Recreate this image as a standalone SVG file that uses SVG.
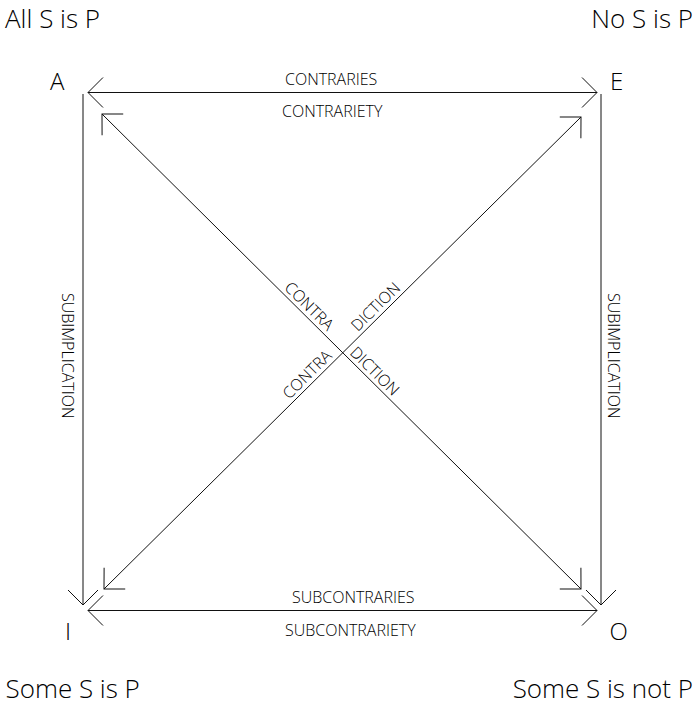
<svg xmlns="http://www.w3.org/2000/svg" width="695" height="706" viewBox="0 0 695 706">
<style>
  .big { font-family: "Open Sans", "Liberation Sans", sans-serif; font-weight: 300; font-size: 26px; fill: #000; }
  .corner { font-family: "Open Sans", "Liberation Sans", sans-serif; font-weight: 300; font-size: 24px; fill: #000; }
  .lbl { font-family: "Open Sans", "Liberation Sans", sans-serif; font-weight: 300; font-size: 16px; fill: #000; }
  .ln { stroke: #111; stroke-width: 1; fill: none; }
</style>
<defs>
  <marker id="arr" markerUnits="userSpaceOnUse" viewBox="-17 -17 18 34" refX="0" refY="0" markerWidth="18" markerHeight="34" orient="auto-start-reverse" overflow="visible">
    <path d="M-15,-15 L0,0 L-15,15" fill="none" stroke="#111" stroke-width="1"/>
  </marker>
</defs>
<rect width="695" height="706" fill="#fff"/>

<g id="node-A">
  <text class="big" x="5" y="28">All S is P</text>
  <text class="corner" x="50" y="90">A</text>
</g>
<g id="node-E">
  <text class="big" x="693" y="28" text-anchor="end">No S is P</text>
  <text class="corner" x="610" y="90">E</text>
</g>
<g id="node-I">
  <text class="big" x="5.5" y="698">Some S is P</text>
  <text class="corner" x="65" y="640">I</text>
</g>
<g id="node-O">
  <text class="big" x="693" y="698" text-anchor="end">Some S is not P</text>
  <text class="corner" x="609.5" y="640">O</text>
</g>

<g id="connectors">
  <line class="ln" x1="88" y1="92.5" x2="597" y2="92.5" marker-start="url(#arr)" marker-end="url(#arr)"/>
  <line class="ln" x1="88" y1="610.5" x2="597" y2="610.5" marker-start="url(#arr)" marker-end="url(#arr)"/>
  <line class="ln" x1="83" y1="94" x2="83" y2="605" marker-end="url(#arr)"/>
  <line class="ln" x1="601" y1="94" x2="601" y2="605" marker-end="url(#arr)"/>
  <line class="ln" x1="102" y1="114" x2="581" y2="589" marker-start="url(#arr)" marker-end="url(#arr)"/>
  <line class="ln" x1="581" y1="117" x2="104" y2="589" marker-start="url(#arr)" marker-end="url(#arr)"/>

  <text class="lbl" x="285" y="85">CONTRARIES</text>
  <text class="lbl" x="282" y="116.5">CONTRARIETY</text>
  <text class="lbl" x="292" y="603">SUBCONTRARIES</text>
  <text class="lbl" x="285" y="636">SUBCONTRARIETY</text>

  <text class="lbl" transform="translate(62,293) rotate(90)">SUBIMPLICATION</text>
  <text class="lbl" transform="translate(608,293) rotate(90)">SUBIMPLICATION</text>

  <g transform="translate(342.7,352.7) rotate(44.76)">
    <text class="lbl" x="-26" y="-4" text-anchor="end">CONTRA</text>
    <text class="lbl" x="5" y="-4">DICTION</text>
  </g>
  <g transform="translate(342.7,352.7) rotate(-44.7)">
    <text class="lbl" x="25" y="-4">DICTION</text>
    <text class="lbl" x="-10" y="-4" text-anchor="end">CONTRA</text>
  </g>
</g>
</svg>
